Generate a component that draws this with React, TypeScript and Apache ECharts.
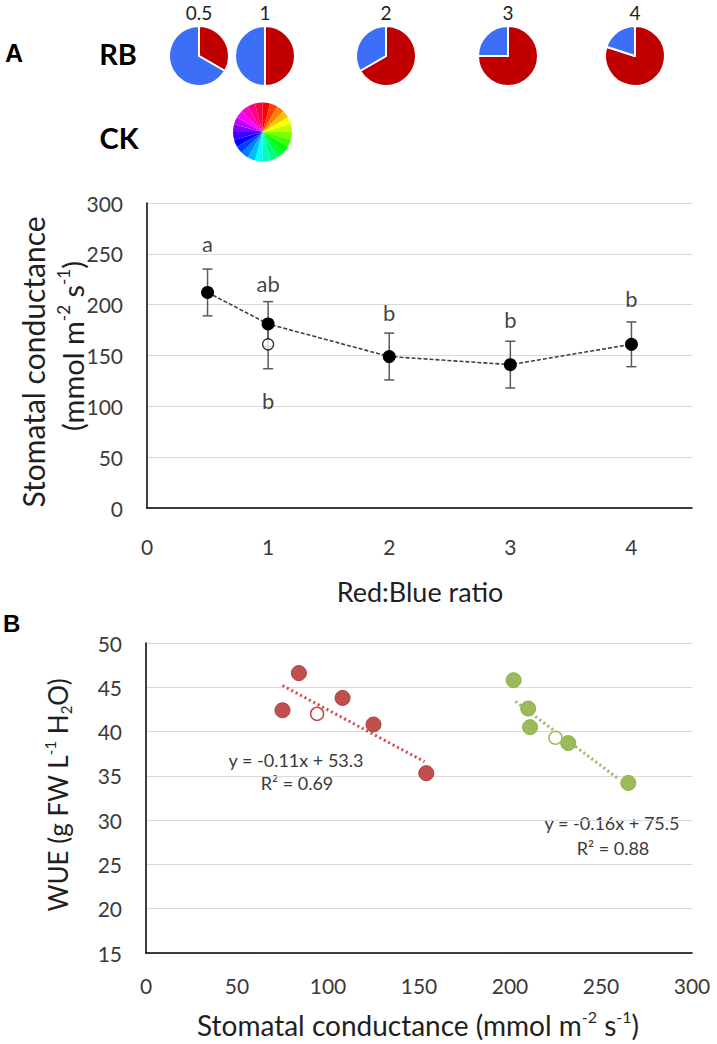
import React, { useEffect, useRef } from "react";
import * as echarts from "echarts";

// ---------- Panel A data ----------
const ratioX = [0.5, 1, 2, 3, 4];
const ratioLabels = ["0.5", "1", "2", "3", "4"];
const gsMean = [212, 181, 149, 141, 161];
const gsErr = [23, 22, 23, 23, 22];
const ckX = 1;
const ckMean = 161;
const ckErr = 24;
const sigLetters = ["a", "ab", "b", "b", "b"];
const sigLetterY = [260, 221, 192, 185, 206];
const ckLetter = "b";
const ckLetterY = 106;

// pie light shares (red : blue)
const redShare = [1, 1, 2, 3, 4];
const blueShare = [2, 1, 1, 1, 1];
const ckWheelColors = [
  "#FF0000", "#FF4000", "#FF8000", "#FFBF00", "#FFFF00", "#BFFF00",
  "#80FF00", "#40FF00", "#00FF00", "#00FF40", "#00FF80", "#00FFBF",
  "#00FFFF", "#00BFFF", "#0080FF", "#0040FF", "#0000FF", "#4000FF",
  "#8000FF", "#BF00FF", "#FF00FF", "#FF00BF", "#FF0080", "#FF0040",
];

// ---------- Panel B data ----------
const redGs = [75, 84, 108, 125, 154];
const redWue = [42.4, 46.6, 43.8, 40.8, 35.3];
const redOpen = [94, 42.0];
const greenGs = [202, 210, 211, 232, 265];
const greenWue = [45.8, 42.6, 40.5, 38.7, 34.2];
const greenOpen = [225, 39.3];
const redTrend = [[75, 45.2], [153, 36.6]];
const greenTrend = [[203, 43.4], [260, 34.6]];
const redEq = ["y = -0.11x + 53.3", "R² = 0.69"];
const greenEq = ["y = -0.16x + 75.5", "R² = 0.88"];

const FONT = 'Lato, "Open Sans", "DejaVu Sans", sans-serif';
const RED = "#C00000";
const BLUE = "#3D6EF7";
const PT_RED = "#C0504D";
const PT_GREEN = "#9BBB59";
const TXT = "#1F1F1F";
const TICK = "#3A3A3A";

function richStyle(size: number, supSize: number) {
  return {
    m: { fontFamily: FONT, fontSize: size, lineHeight: size * 1.2, fill: TXT },
    s: { fontFamily: FONT, fontSize: supSize, lineHeight: supSize, fill: TXT, verticalAlign: "top" },
    b: { fontFamily: FONT, fontSize: supSize, lineHeight: supSize, fill: TXT, verticalAlign: "bottom" },
  };
}

export default function App() {
  const ref = useRef<HTMLDivElement>(null);
  useEffect(() => {
    if (!ref.current) return;
    const chart = echarts.init(ref.current, undefined, { renderer: "svg" });

    const pieCenters = [
      [199, 56],
      [265, 56],
      [386, 56],
      [508, 56],
      [635, 56],
    ];

    const pieSeries: any[] = ratioX.map((_, i) => ({
      type: "pie",
      center: pieCenters[i],
      radius: 30,
      startAngle: 90,
      clockwise: true,
      silent: true,
      label: { show: false },
      labelLine: { show: false },
      itemStyle: { borderColor: "#fff", borderWidth: 2 },
      data: [
        { value: redShare[i], itemStyle: { color: RED } },
        { value: blueShare[i], itemStyle: { color: BLUE } },
      ],
    }));
    pieSeries.push({
      type: "pie",
      center: [262.5, 132],
      radius: 29.5,
      startAngle: 90,
      clockwise: true,
      silent: true,
      label: { show: false },
      labelLine: { show: false },
      data: ckWheelColors.map((c) => ({ value: 1, itemStyle: { color: c, borderWidth: 0 } })),
    });

    const errData = ratioX.map((x, i) => [x, gsMean[i] - gsErr[i], gsMean[i] + gsErr[i]]);
    errData.push([ckX, ckMean - ckErr, ckMean + ckErr]);

    const axisLabelStyle = { fontFamily: FONT, fontSize: 21, color: TICK };

    const option: any = {
      animation: false,
      backgroundColor: "#fff",
      textStyle: { fontFamily: FONT },
      grid: [
        { left: 147, top: 203, right: 25, bottom: 536 },
        { left: 146, top: 643, right: 25, bottom: 91 },
      ],
      xAxis: [
        {
          gridIndex: 0,
          type: "value",
          min: 0,
          max: 4.5,
          interval: 1,
          axisLine: { show: true, lineStyle: { color: "#000", width: 1.5 } },
          axisTick: { show: false },
          splitLine: { show: false },
          axisLabel: {
            ...axisLabelStyle,
            margin: 28,
            formatter: (v: number) => (Number.isInteger(v) ? String(v) : ""),
          },
        },
        {
          gridIndex: 1,
          type: "value",
          min: 0,
          max: 300,
          interval: 50,
          axisLine: { show: true, lineStyle: { color: "#000", width: 1.5 } },
          axisTick: { show: false },
          splitLine: { show: false },
          axisLabel: { ...axisLabelStyle, margin: 22 },
        },
      ],
      yAxis: [
        {
          gridIndex: 0,
          type: "value",
          min: 0,
          max: 300,
          interval: 50,
          axisLine: { show: true, lineStyle: { color: "#000", width: 1.5 } },
          axisTick: { show: false },
          splitLine: { show: true, lineStyle: { color: "#D9D9D9", width: 1.2 } },
          axisLabel: { ...axisLabelStyle, margin: 24 },
        },
        {
          gridIndex: 1,
          type: "value",
          min: 15,
          max: 50,
          interval: 5,
          axisLine: { show: true, lineStyle: { color: "#000", width: 1.5 } },
          axisTick: { show: false },
          splitLine: { show: true, lineStyle: { color: "#D9D9D9", width: 1.2 } },
          axisLabel: { ...axisLabelStyle, margin: 24 },
        },
      ],
      series: [
        {
          type: "custom",
          xAxisIndex: 0,
          yAxisIndex: 0,
          z: 1,
          silent: true,
          data: errData,
          renderItem: (params: any, api: any) => {
            const x = api.value(0);
            const lo = api.coord([x, api.value(1)]);
            const hi = api.coord([x, api.value(2)]);
            const w = 5;
            const st = { stroke: "#595959", lineWidth: 1.5 };
            return {
              type: "group",
              children: [
                { type: "line", shape: { x1: lo[0], y1: lo[1], x2: hi[0], y2: hi[1] }, style: st },
                { type: "line", shape: { x1: lo[0] - w, y1: lo[1], x2: lo[0] + w, y2: lo[1] }, style: st },
                { type: "line", shape: { x1: hi[0] - w, y1: hi[1], x2: hi[0] + w, y2: hi[1] }, style: st },
              ],
            };
          },
        },
        {
          type: "line",
          xAxisIndex: 0,
          yAxisIndex: 0,
          z: 3,
          data: ratioX.map((x, i) => [x, gsMean[i]]),
          symbol: "circle",
          symbolSize: 13,
          itemStyle: { color: "#000" },
          lineStyle: { color: "#404040", width: 1.6, type: [4, 2] },
        },
        {
          type: "scatter",
          xAxisIndex: 0,
          yAxisIndex: 0,
          z: 3,
          data: [[ckX, ckMean]],
          symbol: "circle",
          symbolSize: 11,
          itemStyle: { color: "#fff", borderColor: "#000", borderWidth: 1.3 },
        },
        {
          type: "scatter",
          xAxisIndex: 0,
          yAxisIndex: 0,
          symbolSize: 1,
          silent: true,
          itemStyle: { color: "transparent" },
          data: [
            ...ratioX.map((x, i) => ({ value: [x, sigLetterY[i]], name: sigLetters[i] })),
            { value: [ckX, ckLetterY], name: ckLetter },
          ],
          label: {
            show: true,
            position: "inside",
            formatter: (p: any) => p.name,
            fontFamily: FONT,
            fontSize: 22,
            color: "#111",
            textBorderWidth: 0,
          },
        },
        // Panel B
        {
          type: "line",
          xAxisIndex: 1,
          yAxisIndex: 1,
          data: redTrend,
          showSymbol: false,
          silent: true,
          z: 2,
          lineStyle: { color: "#D64545", width: 3, type: [2, 3] },
        },
        {
          type: "line",
          xAxisIndex: 1,
          yAxisIndex: 1,
          data: greenTrend,
          showSymbol: false,
          silent: true,
          z: 2,
          lineStyle: { color: PT_GREEN, width: 3, type: [2, 3] },
        },
        {
          type: "scatter",
          xAxisIndex: 1,
          yAxisIndex: 1,
          z: 3,
          data: redGs.map((x, i) => [x, redWue[i]]),
          symbolSize: 15,
          itemStyle: { color: PT_RED, borderColor: "#B03C39", borderWidth: 1, opacity: 1 },
        },
        {
          type: "scatter",
          xAxisIndex: 1,
          yAxisIndex: 1,
          z: 3,
          data: [redOpen],
          symbolSize: 13,
          itemStyle: { color: "#fff", borderColor: PT_RED, borderWidth: 1.5, opacity: 1 },
        },
        {
          type: "scatter",
          xAxisIndex: 1,
          yAxisIndex: 1,
          z: 3,
          data: greenGs.map((x, i) => [x, greenWue[i]]),
          symbolSize: 15,
          itemStyle: { color: PT_GREEN, borderColor: "#8FB04E", borderWidth: 1, opacity: 1 },
        },
        {
          type: "scatter",
          xAxisIndex: 1,
          yAxisIndex: 1,
          z: 3,
          data: [greenOpen],
          symbolSize: 13,
          itemStyle: { color: "#fff", borderColor: PT_GREEN, borderWidth: 1.5, opacity: 1 },
        },
        ...pieSeries,
      ],
      graphic: [
        { type: "text", left: 5, top: 40, style: { text: "A", fontFamily: '"Liberation Sans", Arial, sans-serif', fontWeight: "bold", fontSize: 25, fill: "#000" } },
        { type: "text", left: 3, top: 611, style: { text: "B", fontFamily: '"Liberation Sans", Arial, sans-serif', fontWeight: "bold", fontSize: 24, fill: "#000" } },
        { type: "text", x: 118, y: 53, style: { text: "RB", fontFamily: FONT, fontWeight: "bold", fontSize: 29, fill: "#000", textAlign: "center", textVerticalAlign: "middle" } },
        { type: "text", x: 119, y: 137, style: { text: "CK", fontFamily: FONT, fontWeight: "bold", fontSize: 29, fill: "#000", textAlign: "center", textVerticalAlign: "middle" } },
        ...ratioLabels.map((t, i) => ({
          type: "text",
          x: pieCenters[i][0],
          y: 12,
          style: { text: t, fontFamily: FONT, fontSize: 19, fill: TXT, textAlign: "center", textVerticalAlign: "middle" },
        })),
        // Panel A axis titles
        { type: "text", x: 33, y: 362, rotation: Math.PI / 2, style: { text: "Stomatal conductance", fontFamily: FONT, fontSize: 30, fill: TXT, textAlign: "center", textVerticalAlign: "middle" } },
        {
          type: "text", x: 72, y: 346, rotation: Math.PI / 2,
          style: { text: "{m|(mmol m}{s|-2}{m| s}{s|-1}{m|)}", rich: richStyle(29, 17), textAlign: "center", textVerticalAlign: "middle" },
        },
        { type: "text", x: 420, y: 591, style: { text: "Red:Blue ratio", fontFamily: FONT, fontSize: 27, fill: TXT, textAlign: "center", textVerticalAlign: "middle" } },
        // Panel B axis titles
        {
          type: "text", x: 58, y: 795, rotation: Math.PI / 2,
          style: { text: "{m|WUE (g FW L}{s|-1}{m| H}{b|2}{m|O)}", rich: richStyle(26, 15), textAlign: "center", textVerticalAlign: "middle" },
        },
        {
          type: "text", x: 418, y: 1025,
          style: { text: "{m|Stomatal conductance (mmol m}{s|-2}{m| s}{s|-1}{m|)}", rich: richStyle(28, 16), textAlign: "center", textVerticalAlign: "middle" },
        },
        // Trend equations
        { type: "text", x: 296, y: 760, style: { text: redEq[0], fontFamily: FONT, fontSize: 18, fill: TICK, textAlign: "center", textVerticalAlign: "middle" } },
        { type: "text", x: 297, y: 783, style: { text: redEq[1], fontFamily: FONT, fontSize: 18, fill: TICK, textAlign: "center", textVerticalAlign: "middle" } },
        { type: "text", x: 612, y: 823, style: { text: greenEq[0], fontFamily: FONT, fontSize: 18, fill: TICK, textAlign: "center", textVerticalAlign: "middle" } },
        { type: "text", x: 613, y: 848, style: { text: greenEq[1], fontFamily: FONT, fontSize: 18, fill: TICK, textAlign: "center", textVerticalAlign: "middle" } },
      ],
    };

    chart.setOption(option);
    return () => chart.dispose();
  }, []);

  return (
    <div
      ref={ref}
      style={{ position: "absolute", left: 0, top: 0, width: 717, height: 1044, background: "#fff" }}
    />
  );
}
